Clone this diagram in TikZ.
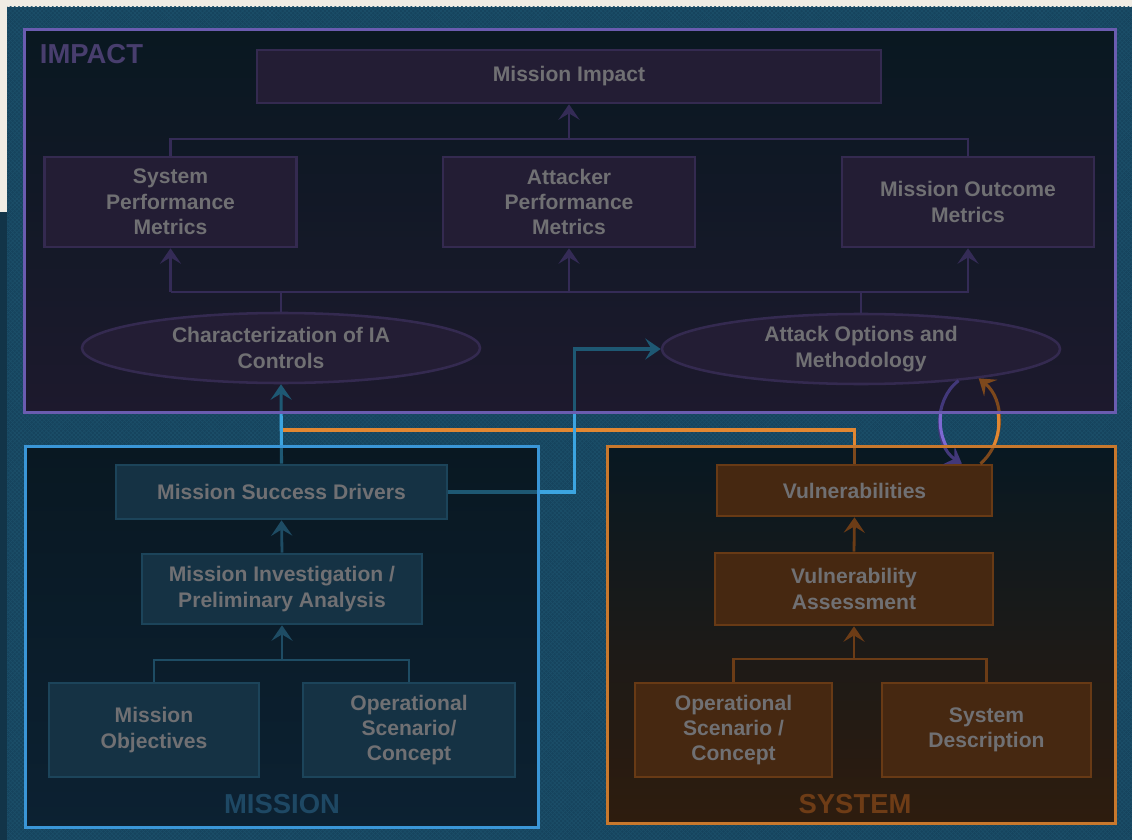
\documentclass[tikz,border=0pt]{standalone}
\usepackage{fontspec}
\setmainfont{Liberation Sans}
\usetikzlibrary{arrows.meta,shapes.geometric,patterns}

\definecolor{cream}{RGB}{240,236,228}
\definecolor{bgteal}{RGB}{22,68,94}
\definecolor{bghatch}{RGB}{28,79,106}
\definecolor{bgdark}{RGB}{18,52,72}
\definecolor{txtgray}{RGB}{112,112,115}
% impact
\definecolor{itop}{RGB}{9,24,33}
\definecolor{ibot}{RGB}{29,25,45}
\definecolor{iedge}{RGB}{106,92,176}
\definecolor{ifill}{RGB}{35,29,52}
\definecolor{iframe}{RGB}{52,42,80}
\definecolor{iline}{RGB}{52,43,86}
\definecolor{ilabel}{RGB}{72,62,110}
% mission
\definecolor{mtop}{RGB}{9,24,34}
\definecolor{mbot}{RGB}{12,33,50}
\definecolor{medge}{RGB}{58,150,215}
\definecolor{mfill}{RGB}{21,50,68}
\definecolor{mframe}{RGB}{28,68,90}
\definecolor{mline}{RGB}{30,76,100}
\definecolor{mlabel}{RGB}{30,72,100}
% system
\definecolor{stop}{RGB}{8,24,34}
\definecolor{sbot}{RGB}{46,28,14}
\definecolor{sedge}{RGB}{200,120,45}
\definecolor{sfill}{RGB}{70,40,17}
\definecolor{sframe}{RGB}{104,58,21}
\definecolor{sline}{RGB}{108,60,22}
\definecolor{slabel}{RGB}{110,60,22}
% links between panels
\definecolor{blit}{RGB}{60,165,225}
\definecolor{bdim}{RGB}{30,88,115}
\definecolor{olit}{RGB}{225,135,50}
\definecolor{odim}{RGB}{125,72,28}
\definecolor{plit}{RGB}{125,105,210}
\definecolor{pdim}{RGB}{66,56,122}

\begin{document}
\begin{tikzpicture}[x=0.025cm, y=-0.025cm,
    font=\fontsize{15}{18}\selectfont\bfseries,
    >={Stealth[length=11pt,width=15pt,inset=4.5pt]},
    panel/.style = {rectangle, inner sep=0pt},
    box/.style = {draw, rectangle, line width=1.8pt, align=center, text=txtgray, inner sep=0pt},
    ibox/.style = {box, fill=ifill, draw=iframe, minimum width=6.3cm, minimum height=2.25cm},
    mbox/.style = {box, fill=mfill, draw=mframe},
    sbox/.style = {box, fill=sfill, draw=sframe},
    oval/.style = {ellipse, draw=iframe, fill=ifill, line width=1.8pt, align=center, text=txtgray,
                   inner sep=0pt, minimum width=9.95cm, minimum height=1.75cm},
    link/.style = {line width=2pt},
    cross/.style = {line width=2.2pt},
    caption/.style = {font=\fontsize{19.5}{20}\selectfont\bfseries}]

    \useasboundingbox (0,0) rectangle (1132,840);
    \fill[cream] (0,0) rectangle (1132,840);
    \fill[bgteal] (7,7) rectangle (1132,840);
    \fill[pattern=north east lines, pattern color=bghatch] (7,7) rectangle (1132,840);
    \fill[pattern=north west lines, pattern color=bghatch] (7,7) rectangle (1132,840);
    \fill[bgdark] (0,212) rectangle (7,840);

    %panels
    \node[panel, top color=itop, bottom color=ibot, minimum width=27.25cm, minimum height=9.55cm] (impact) at (570,221) {};
    \node[panel, top color=mtop, bottom color=mbot, minimum width=12.8cm, minimum height=9.5cm] (mission) at (282,637) {};
    \node[panel, top color=stop, bottom color=sbot, minimum width=12.675cm, minimum height=9.4cm] (system) at (861.5,635) {};

    %impact
    \node[box, fill=ifill, draw=iframe, minimum width=15.6cm, minimum height=1.325cm] (mimpact) at (569,76.5) {Mission Impact};
    \node[ibox] (sysperf) at (170.5,202) {System\\Performance\\Metrics};
    \node[ibox] (attperf) at (569,202) {Attacker\\Performance\\Metrics};
    \node[ibox] (outcome) at (968,202) {Mission Outcome\\Metrics};
    \node[oval] (iactl) at (281,348) {Characterization of IA\\Controls};
    \node[oval] (attack) at (861,349) {Attack Options and\\Methodology};

    %mission
    \node[mbox, minimum width=8.275cm, minimum height=1.35cm] (drivers) at (281.5,492) {Mission Success Drivers};
    \node[mbox, minimum width=7cm, minimum height=1.75cm] (prelim) at (282,589) {Mission Investigation /\\Preliminary Analysis};
    \node[mbox, minimum width=5.25cm, minimum height=2.35cm] (mobj) at (154,730) {Mission\\Objectives};
    \node[mbox, minimum width=5.3cm, minimum height=2.35cm] (mopsc) at (409,730) {Operational\\Scenario/\\Concept};

    %system
    \node[sbox, minimum width=6.875cm, minimum height=1.275cm] (vulns) at (854.5,490.5) {Vulnerabilities};
    \node[sbox, minimum width=6.95cm, minimum height=1.8cm] (vassess) at (854,589) {Vulnerability\\Assessment};
    \node[sbox, minimum width=4.925cm, minimum height=2.35cm] (sopsc) at (733.5,730) {Operational\\Scenario /\\Concept};
    \node[sbox, minimum width=5.225cm, minimum height=2.35cm] (sdesc) at (986.5,730) {System\\Description};

    %trees
    \draw[link, iline] (sysperf.north) |- (outcome.north |- 0,139) -- (outcome.north);
    \draw[link, iline, ->] (mimpact.south |- 0,139) -- (mimpact.south);
    \draw[link, iline] (iactl.north) -- (iactl.north |- 0,292);
    \draw[link, iline] (attack.north) -- (attack.north |- 0,292);
    \draw[link, iline, ->] (sysperf.south |- 0,292) -- (sysperf.south);
    \draw[link, iline, ->] (attperf.south |- 0,292) -- (attperf.south);
    \draw[link, iline, ->] (sysperf.south |- 0,292) -| (outcome.south);

    \draw[link, mline] (mobj.north) |- (mopsc.north |- 0,660) -- (mopsc.north);
    \draw[link, mline, ->] (prelim.south |- 0,660) -- (prelim.south);
    \draw[link, mline, ->] (prelim.north) -- (drivers.south);

    \draw[link, sline] (sopsc.north) |- (sdesc.north |- 0,659) -- (sdesc.north);
    \draw[link, sline, ->] (vassess.south |- 0,659) -- (vassess.south);
    \draw[link, sline, ->] (vassess.north) -- (vulns.south);

    %between panels
    \coordinate (ojoin) at (281,430);
    \draw[cross, odim] (vulns.north) |- (ojoin);
    \draw[cross, bdim, ->] (drivers.north) -- (iactl.south);
    \draw[cross, bdim, ->] (drivers.east) -- ++(126,0) |- (attack.west);
    \draw[cross, pdim, ->] (attack.-18) to[bend right=55] (vulns.14);
    \draw[cross, odim, ->] (vulns.12) to[bend right=50] (attack.-14);

    \begin{scope}
      \clip (impact.south west) rectangle (system.north east)
            (mission.north east) rectangle (system.south west);
      \draw[cross, olit] (vulns.north) |- (ojoin);
      \draw[cross, blit] (drivers.north) -- (iactl.south);
      \draw[cross, blit] (drivers.east) -- ++(126,0) |- (attack.west);
      \draw[cross, plit] (attack.-18) to[bend right=55] (vulns.14);
      \draw[cross, olit] (vulns.12) to[bend right=50] (attack.-14);
    \end{scope}

    \draw[line width=2.4pt, iedge] (impact.north west) rectangle (impact.south east);
    \draw[line width=2.4pt, medge] (mission.north west) rectangle (mission.south east);
    \draw[line width=2.4pt, sedge] (system.north west) rectangle (system.south east);

    \node[caption, ilabel, anchor=base west] (ilab) at (35,64) {IMPACT};
    \node[caption, mlabel, anchor=base] (mlab) at (282,813) {MISSION};
    \node[caption, slabel, anchor=base] (slab) at (855,813) {SYSTEM};

\end{tikzpicture}
\end{document}
